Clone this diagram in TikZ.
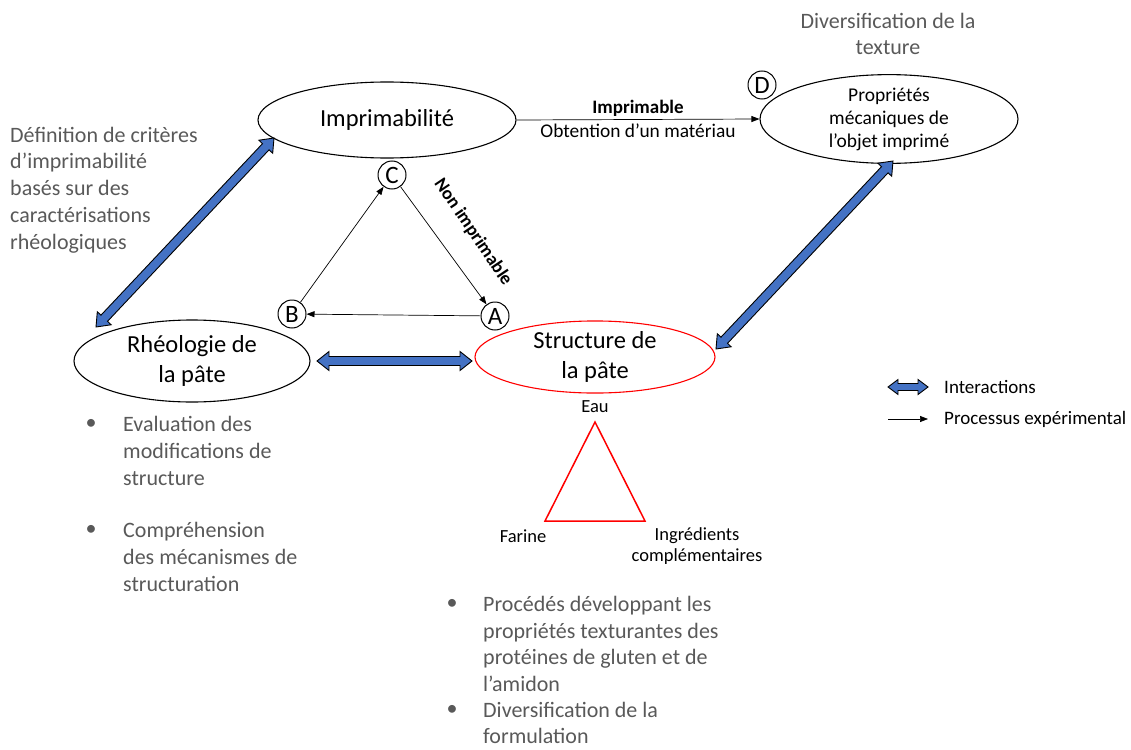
\documentclass[tikz,border=0pt]{standalone}
\usepackage{fontspec}
\setmainfont{Carlito}
\usetikzlibrary{calc,shapes.geometric,arrows.meta}
\definecolor{txtgray}{HTML}{595959}
\definecolor{iblue}{HTML}{4472C4}
% double arrow polygon: #1 start, #2 end, #3 head length, #4 head half width, #5 shaft half width
\newcommand{\dblarrow}[5]{%
  \draw[interact] (#1) -- ($(#1)!#3!(#2)!#4!90:(#2)$) -- ($(#1)!#3!(#2)!#5!90:(#2)$)
   -- ($(#2)!#3!(#1)!#5!-90:(#1)$) -- ($(#2)!#3!(#1)!#4!-90:(#1)$) -- (#2)
   -- ($(#2)!#3!(#1)!#4!90:(#1)$) -- ($(#2)!#3!(#1)!#5!90:(#1)$)
   -- ($(#1)!#3!(#2)!#5!-90:(#2)$) -- ($(#1)!#3!(#2)!#4!-90:(#2)$) -- cycle;}
\begin{document}
\begin{tikzpicture}[x=1pt,y=-1pt,
  ell/.style={draw, ellipse, inner sep=0pt, align=center, line width=1.1pt, font=\fontsize{24.5}{30}\selectfont},
  circ/.style={draw, circle, minimum size=28pt, inner sep=0pt, line width=1pt, font=\fontsize{25}{25}\selectfont},
  proc/.style={draw=black, line width=0.7pt, -{Triangle[length=8pt,width=6pt]}},
  interact/.style={draw=black, line width=0.9pt, fill=iblue, line join=miter},
  gtxt/.style={text=txtgray, inner sep=0pt, align=left, font=\fontsize{22}{26.8}\selectfont},
  small/.style={inner sep=0pt, align=center, font=\fontsize{19}{22.5}\selectfont}]
\useasboundingbox (0,0) rectangle (1131,749);

% ellipses
\node[ell, minimum width=258pt, minimum height=76pt] (imp) at (387,120) {Imprimabilité};
\node[ell, minimum width=236pt, minimum height=82pt] (rheo) at (192,361) {Rhéologie de\\la pâte};
\node[ell, draw=red, minimum width=240pt, minimum height=72pt] (str) at (595,357) {Structure de\\la pâte};
\node[ell, line width=1.1pt, font=\fontsize{19.5}{23}\selectfont, minimum width=258pt, minimum height=77pt] (prop) at (889,119) {Propriétés\\mécaniques de\\l’objet imprimé};

% circled letters
\node[circ] (C) at (392,175) {C};
\node[circ] (B) at (292,314) {B};
\node[circ] (A) at (495,316) {A};
\node[circ] (D) at (762,85) {D};

% experimental process
\draw[proc] (C) -- (A);
\draw[proc] (A) -- (B);
\draw[proc] (B) -- (C);
\node[small, font=\bfseries\fontsize{18.5}{22}\selectfont, rotate=-56] (ni) at (473,232) {Non imprimable};
\draw[proc] (imp.east) -- (prop.west)
  node[midway, above=3pt, small, font=\bfseries\fontsize{19}{22}\selectfont] (impl) {Imprimable}
  node[midway, below=4pt, small, font=\fontsize{19.4}{22}\selectfont] (obt) {Obtention d’un matériau};

% interactions
\coordinate (i1) at (274,138);
\coordinate (i2) at (96,327);
\coordinate (h1) at (317,361);
\coordinate (h2) at (472,361);
\coordinate (p1) at (893,161);
\coordinate (p2) at (716,349);
\dblarrow{i1}{i2}{12pt}{9.5pt}{4.5pt}
\dblarrow{h1}{h2}{12pt}{9.5pt}{4.5pt}
\dblarrow{p1}{p2}{12pt}{9.5pt}{4.5pt}

% ingredients triangle
\coordinate (t1) at (595,422);
\coordinate (t2) at (545,521);
\coordinate (t3) at (645,521);
\draw[red, line width=1.5pt] (t1) -- (t2) -- (t3) -- cycle;
\node[small, font=\fontsize{18.5}{21.5}\selectfont] (eau) at (595,407) {Eau};
\node[small, font=\fontsize{18.5}{21.5}\selectfont] (far) at (523,536) {Farine};
\node[small, font=\fontsize{18.5}{21.5}\selectfont] (ing) at (697,546) {Ingrédients\\complémentaires};

% legend
\coordinate (l1a) at (888,387);
\coordinate (l1b) at (928,387);
\coordinate (l2a) at (888,419);
\coordinate (l2b) at (928,419);
\dblarrow{l1a}{l1b}{10pt}{7.5pt}{3.5pt}
\draw[proc] (l2a) -- (l2b);
\node[small, anchor=west, font=\fontsize{19}{22}\selectfont] (lg1) at (944,387) {Interactions};
\node[small, anchor=west, font=\fontsize{19}{22}\selectfont] (lg2) at (944,419) {Processus expérimental};

% gray annotations
\node[gtxt, align=center] (tex) at (888,34) {Diversification de la\\texture};
\node[gtxt, anchor=west] (crit) at (10,190) {Définition de critères\\d’imprimabilité\\basés sur des\\caractérisations\\rhéologiques};
\node[gtxt] (b1) at (91,424) {•};
\node[gtxt, anchor=west] (ev) at (123,451) {Evaluation des\\modifications de\\structure};
\node[gtxt] (b2) at (91,530) {•};
\node[gtxt, anchor=west] (comp) at (123,557) {Compréhension\\des mécanismes de\\structuration};
\node[gtxt] (b3) at (452,604) {•};
\node[gtxt, anchor=west] (proc1) at (483,644) {Procédés développant les\\propriétés texturantes des\\protéines de gluten et de\\l’amidon};
\node[gtxt] (b4) at (452,710) {•};
\node[gtxt, anchor=west] (div) at (483,723) {Diversification de la\\formulation};
\end{tikzpicture}
\end{document}
